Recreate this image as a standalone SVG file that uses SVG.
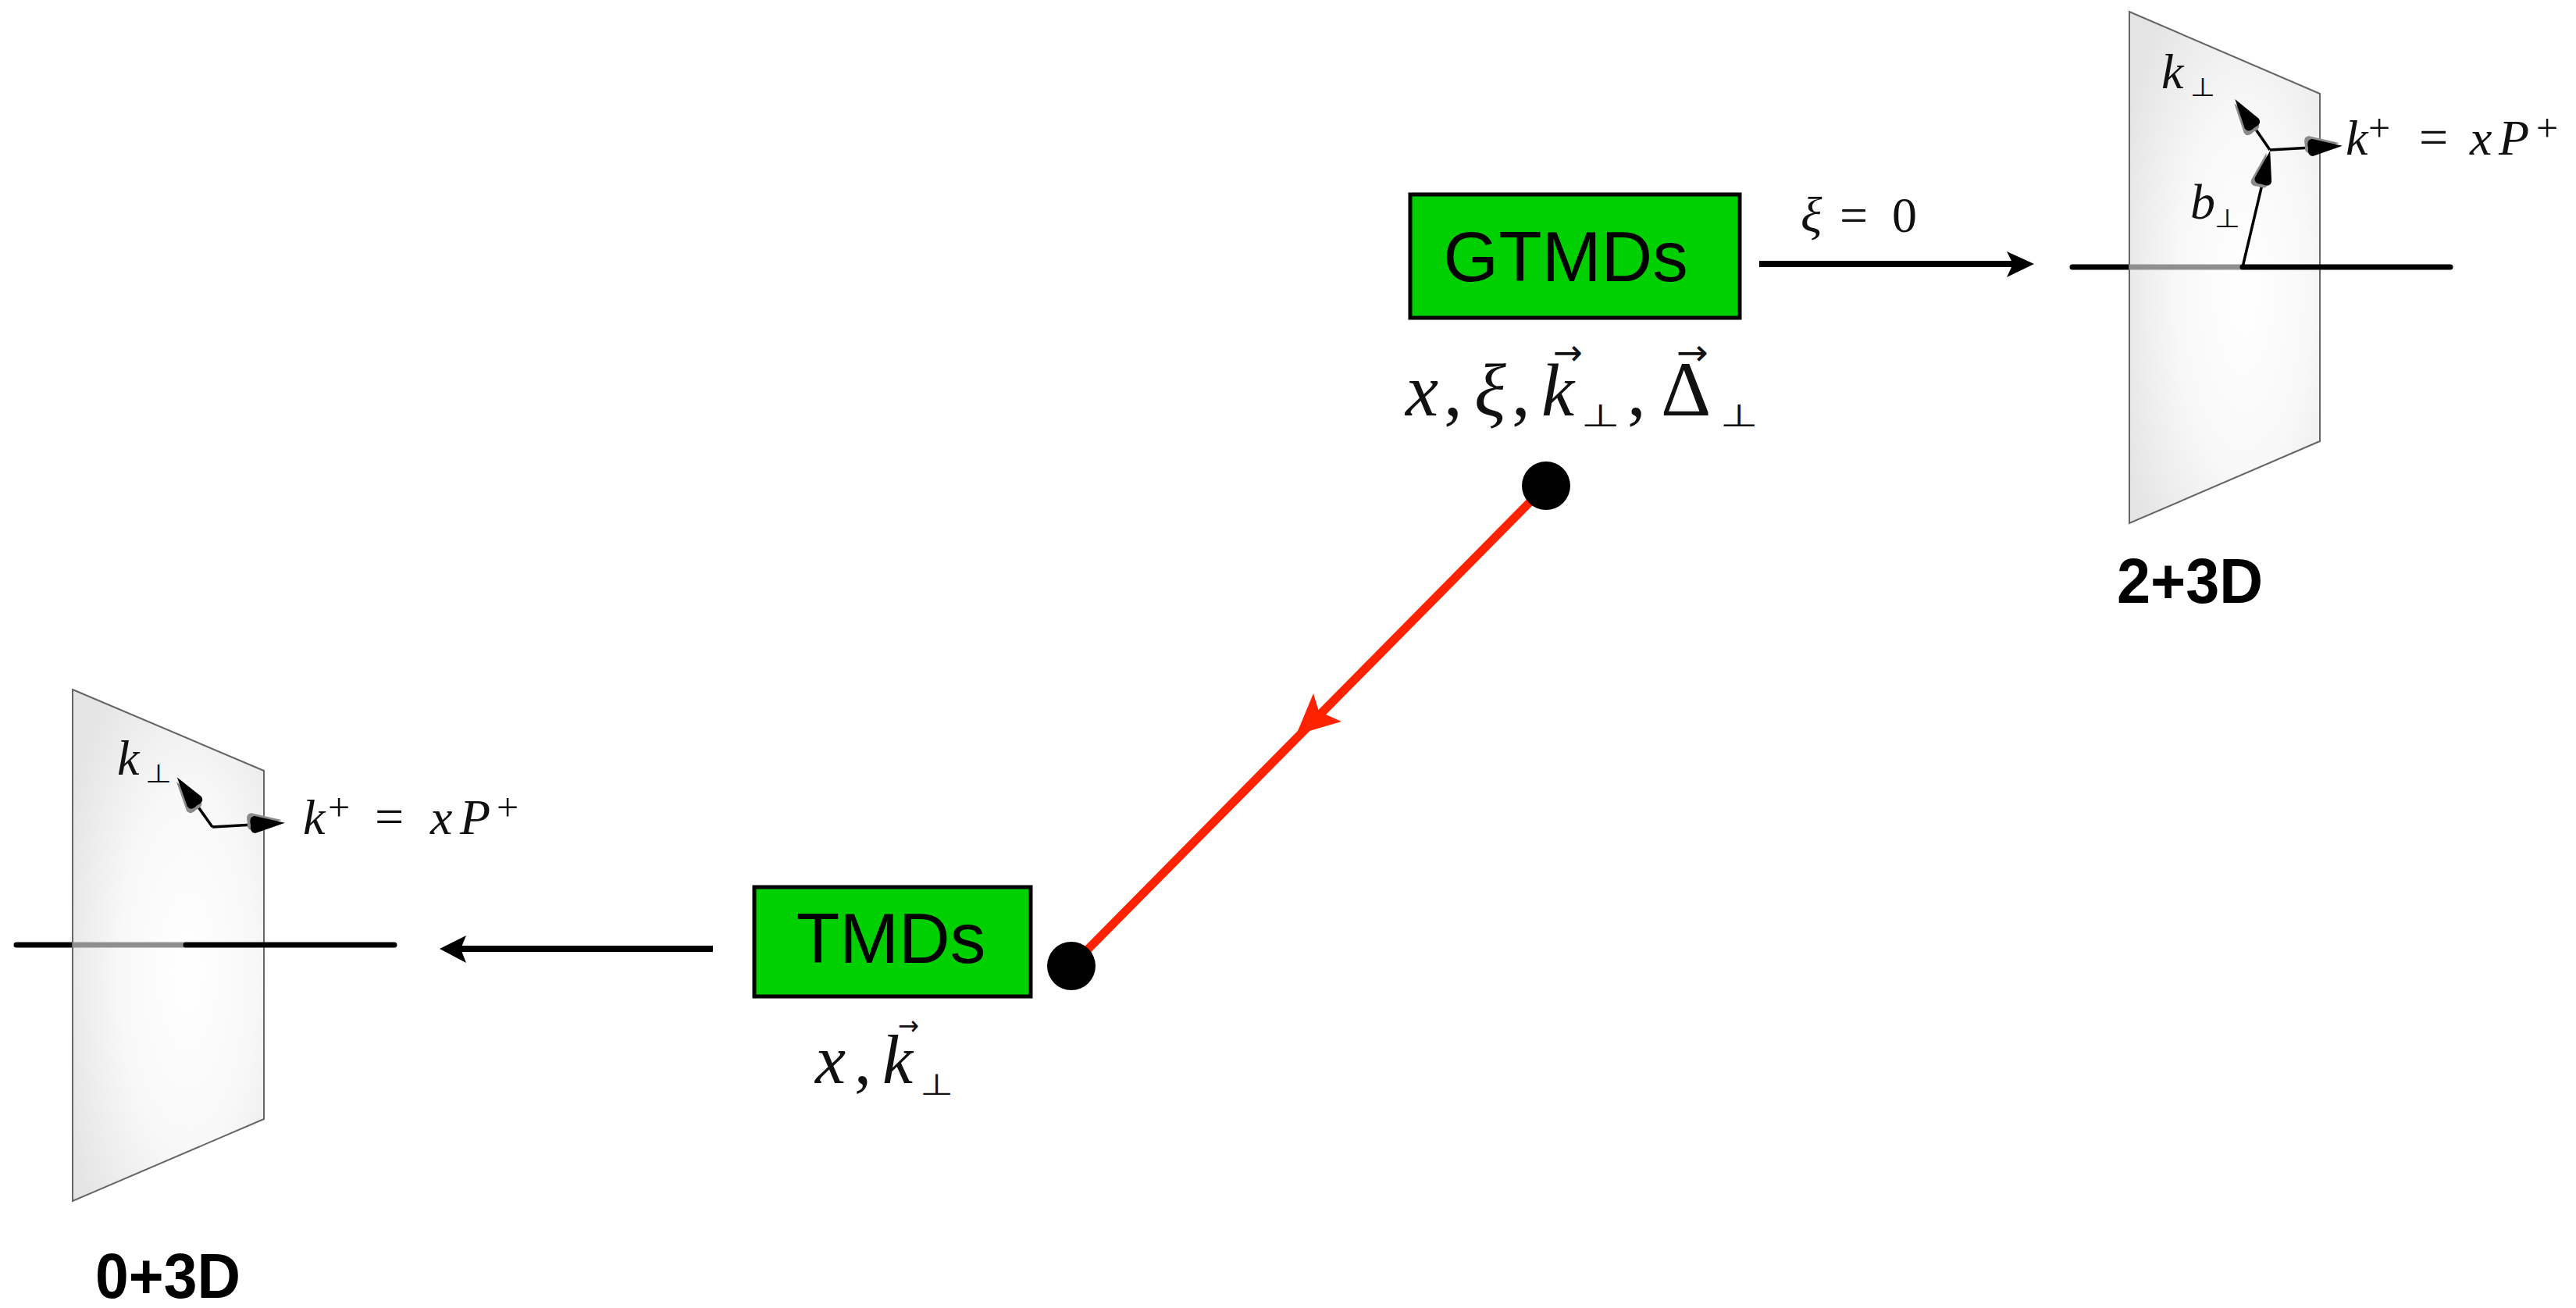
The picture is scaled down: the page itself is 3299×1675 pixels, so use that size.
<svg xmlns="http://www.w3.org/2000/svg" width="3299" height="1675" viewBox="0 0 3299 1675">
<style>
.mi{font-family:"Liberation Serif","Times New Roman",serif;font-style:italic;fill:#111}
.mr{font-family:"Liberation Serif","Times New Roman",serif;fill:#111}
.sym{font-family:"DejaVu Sans",sans-serif;fill:#111}
.box{fill:#00cf00;stroke:#000;stroke-width:5}
.boxtxt{font-family:"Liberation Sans",Arial,sans-serif;font-size:91px;fill:#000;text-anchor:middle}
.dim{font-family:"Liberation Sans",Arial,sans-serif;font-size:82px;font-weight:bold;fill:#000}
.plane{fill:url(#pg);stroke:#666;stroke-width:2}
.axis{stroke:#000;stroke-width:7;stroke-linecap:round;fill:none}
.axisg{stroke:#8f8f8f;stroke-width:7;fill:none}
.vec{stroke:#000;stroke-width:3.5;fill:none;marker-end:url(#ah)}
.conn{stroke:#000;stroke-width:8;fill:none}
</style>
<defs>
<radialGradient id="pg" cx="0.6" cy="0.55" r="0.7">
<stop offset="0" stop-color="#ffffff"/>
<stop offset="0.5" stop-color="#f8f8f8"/>
<stop offset="1" stop-color="#e4e4e4"/>
</radialGradient>
<marker id="ah" markerUnits="userSpaceOnUse" markerWidth="80" markerHeight="50" viewBox="-20 -25 80 50" refX="0" refY="0" orient="auto" overflow="visible">
<path d="M36,-4 L-2,-15 Q-10,-15 -8,-4 Q-10,7 -2,7 Z" fill="#8a8a8a"/>
<path d="M40,0 L2,-11 Q-6,-11 -4,0 Q-6,11 2,11 Z" fill="#000"/>
</marker>
</defs>
<rect width="3299" height="1675" fill="#fff"/>

<g id="plane-2plus3D">
<line class="axis" x1="2654" y1="342" x2="2727" y2="342"/>
<polygon class="plane" points="2727,15 2971,120 2971,565 2727,670"/>
<line class="axisg" x1="2727" y1="342" x2="2872" y2="342"/>
<line class="axis" x1="2872" y1="342" x2="3138" y2="342"/>
<line class="vec" x1="2872" y1="342" x2="2898" y2="232"/>
<line class="vec" x1="2907" y1="192" x2="2885" y2="160"/>
<line class="vec" x1="2907" y1="192" x2="2960" y2="189"/>
<text class="mi" x="2768" y="113" font-size="64">k</text>
<text class="sym" x="2805" y="123" font-size="33" textLength="32" lengthAdjust="spacingAndGlyphs">⊥</text>
<text class="mi" x="2805" y="280" font-size="64">b</text>
<text class="sym" x="2836" y="291" font-size="33" textLength="33" lengthAdjust="spacingAndGlyphs">⊥</text>
<text class="mi" x="3004" y="198" font-size="64">k</text>
<text class="mr" x="3033" y="181" font-size="50">+</text>
<text class="mr" x="3098" y="198" font-size="66">=</text>
<text class="mi" x="3163" y="198" font-size="64">x</text>
<text class="mi" x="3200" y="198" font-size="64">P</text>
<text class="mr" x="3248" y="181" font-size="50">+</text>
<text class="dim" x="2711" y="772" textLength="187" lengthAdjust="spacingAndGlyphs">2+3D</text>
</g>

<g id="plane-0plus3D">
<line class="axis" x1="21" y1="1210" x2="93" y2="1210"/>
<polygon class="plane" points="93,883 338,987 338,1433 93,1538"/>
<line class="axisg" x1="93" y1="1210" x2="238" y2="1210"/>
<line class="axis" x1="238" y1="1210" x2="505" y2="1210"/>
<line class="vec" x1="272" y1="1059" x2="250" y2="1028"/>
<line class="vec" x1="272" y1="1059" x2="325" y2="1056"/>
<text class="mi" x="150" y="992" font-size="64">k</text>
<text class="sym" x="186" y="1002" font-size="33" textLength="34" lengthAdjust="spacingAndGlyphs">⊥</text>
<text class="mi" x="388" y="1068" font-size="64">k</text>
<text class="mr" x="420" y="1051" font-size="50">+</text>
<text class="mr" x="480" y="1068" font-size="66">=</text>
<text class="mi" x="551" y="1068" font-size="64">x</text>
<text class="mi" x="589" y="1068" font-size="64">P</text>
<text class="mr" x="636" y="1051" font-size="50">+</text>
<text class="dim" x="122" y="1662" textLength="186" lengthAdjust="spacingAndGlyphs">0+3D</text>
</g>

<g id="connectors">
<line class="conn" x1="2253" y1="338" x2="2580" y2="338"/>
<polygon points="2605,338 2570,322 2578,338 2570,355" fill="#000"/>
<text class="mi" x="2306" y="297" font-size="64">ξ</text>
<text class="mr" x="2356" y="297" font-size="64">=</text>
<text class="mr" x="2423" y="297" font-size="64">0</text>
<line class="conn" x1="913" y1="1215" x2="588" y2="1215"/>
<polygon points="563,1215 597,1198 590,1215 597,1233" fill="#000"/>
<line x1="1980" y1="622" x2="1372" y2="1237" stroke="#ff2200" stroke-width="11"/>
<polygon points="1660,941 1682,888 1689,911 1718,924" fill="#ff2200"/>
</g>

<g id="node-GTMDs">
<rect class="box" x="1806" y="249" width="422" height="158"/>
<text class="boxtxt" x="2005" y="360">GTMDs</text>
<text class="mi" x="1800" y="532" font-size="95">x</text>
<text class="mr" x="1849" y="532" font-size="95">,</text>
<text class="mi" x="1888" y="532" font-size="95">ξ</text>
<text class="mr" x="1936" y="532" font-size="95">,</text>
<text class="mi" x="1974" y="532" font-size="95">k</text>
<text class="sym" x="1989" y="467" font-size="46" textLength="38" lengthAdjust="spacingAndGlyphs">→</text>
<text class="sym" x="2025" y="546" font-size="40" textLength="50" lengthAdjust="spacingAndGlyphs">⊥</text>
<text class="mr" x="2084" y="532" font-size="95">,</text>
<text class="mr" x="2127" y="532" font-size="100">Δ</text>
<text class="sym" x="2147" y="467" font-size="46" textLength="41" lengthAdjust="spacingAndGlyphs">→</text>
<text class="sym" x="2203" y="546" font-size="40" textLength="49" lengthAdjust="spacingAndGlyphs">⊥</text>
</g>

<g id="node-TMDs">
<rect class="box" x="966" y="1136" width="354" height="140"/>
<text class="boxtxt" x="1141" y="1233">TMDs</text>
<text class="mi" x="1044" y="1387" font-size="88">x</text>
<text class="mr" x="1094" y="1387" font-size="88">,</text>
<text class="mi" x="1130" y="1387" font-size="88">k</text>
<text class="sym" x="1150" y="1325" font-size="34" textLength="27" lengthAdjust="spacingAndGlyphs">→</text>
<text class="sym" x="1178" y="1402" font-size="38" textLength="43" lengthAdjust="spacingAndGlyphs">⊥</text>
</g>

<g id="node-dot-GTMDs">
<circle cx="1980" cy="622" r="31" fill="#000"/>
</g>
<g id="node-dot-TMDs">
<circle cx="1372" cy="1237" r="31" fill="#000"/>
</g>
</svg>
